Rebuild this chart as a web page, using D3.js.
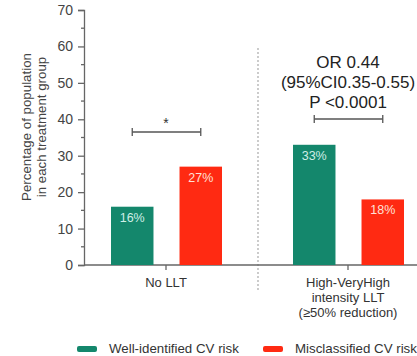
<!DOCTYPE html>
<html>
<head>
<meta charset="utf-8">
<script src="https://cdn.jsdelivr.net/npm/d3@7/dist/d3.min.js"></script>
<style>
	body { margin: 0; background: #fff; }
	svg { display: block; font-family: "Liberation Sans", Arial, sans-serif; }
</style>
</head>
<body>
<script>
var groups = ['No LLT', 'High-VeryHigh intensity LLT'];
var groupLines = [['No LLT'], ['High-VeryHigh', 'intensity LLT', '(\u226550% reduction)']];
var series = ['Well-identified CV risk', 'Misclassified CV risk'];
var wellIdentified = [16, 33];
var misclassified = [27, 18];
var yTicks = [0, 10, 20, 30, 40, 50, 60, 70];
var statLines = ['OR 0.44', '(95%CI0.35-0.55)', 'P <0.0001'];
var stars = ['*', ''];

var width = 417, height = 356;
var colors = ['#14876c', '#ff2a12'];

var svg = d3.select('body').append('svg').attr('width', width).attr('height', height);

var y = d3.scaleLinear().domain([0, 70]).range([265, 10]);
var x0 = d3.scaleBand().domain(groups).range([75, 439]);
var x1 = d3.scaleBand().domain(series).range([36, 147]).paddingInner(0.38);

// y axis
var yAxis = svg.append('g').attr('transform', 'translate(84,0)')
	.call(d3.axisLeft(y).tickValues(yTicks).tickSize(6).tickPadding(5));
yAxis.select('.domain').attr('stroke', '#666').attr('stroke-width', 1.3);
yAxis.selectAll('.tick line').attr('stroke', '#666').attr('stroke-width', 1.3);
yAxis.selectAll('text').attr('font-size', '14px').attr('fill', '#444')
	.attr('font-family', '"Liberation Sans", Arial, sans-serif');

// minor ticks
svg.append('g').selectAll('line').data(d3.range(5, 70, 10)).enter().append('line')
	.attr('x1', 81).attr('x2', 84)
	.attr('y1', function(d) { return y(d); }).attr('y2', function(d) { return y(d); })
	.attr('stroke', '#666').attr('stroke-width', 1.3);

// y title
var yTitle = svg.append('text').attr('transform', 'translate(31,127) rotate(-90)')
	.attr('text-anchor', 'middle').attr('font-size', '13.3px').attr('fill', '#444');
yTitle.append('tspan').attr('x', 0).attr('dy', 0).text('Percentage of population');
yTitle.append('tspan').attr('x', 0).attr('dy', 15).text('in each treatment group');

// separator
svg.append('line').attr('x1', 258).attr('x2', 258).attr('y1', 48).attr('y2', 290)
	.attr('stroke', '#aaa').attr('stroke-width', 1.2).attr('stroke-dasharray', '2,2');

// x axis line
svg.append('line').attr('x1', 84).attr('x2', width).attr('y1', y(0)).attr('y2', y(0))
	.attr('stroke', '#666').attr('stroke-width', 1.3);

// bars
var rows = groups.map(function(g, i) {
	return { group: g, values: [wellIdentified[i], misclassified[i]] };
});

var gGroup = svg.selectAll('.grp').data(rows).enter().append('g')
	.attr('class', 'grp')
	.attr('transform', function(d) { return 'translate(' + x0(d.group) + ',0)'; });

gGroup.selectAll('rect').data(function(d) {
	return d.values.map(function(v, j) { return { key: series[j], value: v, i: j }; });
}).enter().append('rect')
	.attr('x', function(d) { return x1(d.key); })
	.attr('width', x1.bandwidth())
	.attr('y', function(d) { return y(d.value); })
	.attr('height', function(d) { return y(0) - y(d.value); })
	.attr('fill', function(d) { return colors[d.i]; });

gGroup.selectAll('.val').data(function(d) {
	return d.values.map(function(v, j) { return { key: series[j], value: v, i: j }; });
}).enter().append('text')
	.attr('x', function(d) { return x1(d.key) + x1.bandwidth() / 2; })
	.attr('y', function(d) { return y(d.value) + 15; })
	.attr('text-anchor', 'middle').attr('font-size', '12.5px')
	.attr('fill', function(d) { return d.i === 0 ? '#cfeee6' : '#ffe0d8'; })
	.text(function(d) { return d.value + '%'; });

// center ticks
gGroup.append('line')
	.attr('x1', x0.bandwidth() / 2).attr('x2', x0.bandwidth() / 2)
	.attr('y1', y(0)).attr('y2', y(0) + 5)
	.attr('stroke', '#666').attr('stroke-width', 1.3);

// group labels
gGroup.each(function(d, i) {
	var t = d3.select(this).append('text').attr('text-anchor', 'middle')
		.attr('font-size', '13px').attr('fill', '#333');
	groupLines[i].forEach(function(line, k) {
		t.append('tspan').attr('x', x0.bandwidth() / 2).attr('y', 287 + k * 15).text(line);
	});
});

// significance brackets
var bracketY = [132, 119];
gGroup.each(function(d, i) {
	var g = d3.select(this);
	var xa = x1(series[0]) + x1.bandwidth() / 2;
	var xb = x1(series[1]) + x1.bandwidth() / 2;
	var by = bracketY[i];
	g.append('line').attr('x1', xa).attr('x2', xb).attr('y1', by).attr('y2', by)
		.attr('stroke', '#555').attr('stroke-width', 1.3);
	[xa, xb].forEach(function(xx) {
		g.append('line').attr('x1', xx).attr('x2', xx).attr('y1', by - 4).attr('y2', by + 4)
			.attr('stroke', '#555').attr('stroke-width', 1.3);
	});
	if (stars[i]) {
		g.append('text').attr('x', x0.bandwidth() / 2).attr('y', by - 4)
			.attr('text-anchor', 'middle').attr('font-size', '14px').attr('fill', '#333')
			.text(stars[i]);
	}
});

// OR text
var stat = svg.append('text').attr('text-anchor', 'middle').attr('font-size', '17px').attr('fill', '#222');
statLines.forEach(function(line, k) {
	stat.append('tspan').attr('x', x0(groups[1]) + x0.bandwidth() / 2).attr('y', 68 + k * 20).text(line);
});

// legend
var legendX = [77, 263];
var lg = svg.selectAll('.lg').data(series).enter().append('g')
	.attr('transform', function(d, i) { return 'translate(' + legendX[i] + ',346)'; });
lg.append('rect').attr('width', 20).attr('height', 6).attr('rx', 2)
	.attr('fill', function(d, i) { return colors[i]; });
lg.append('text').attr('x', 32).attr('y', 7).attr('font-size', '13.3px').attr('fill', '#333')
	.text(function(d) { return d; });
</script>
</body>
</html>
